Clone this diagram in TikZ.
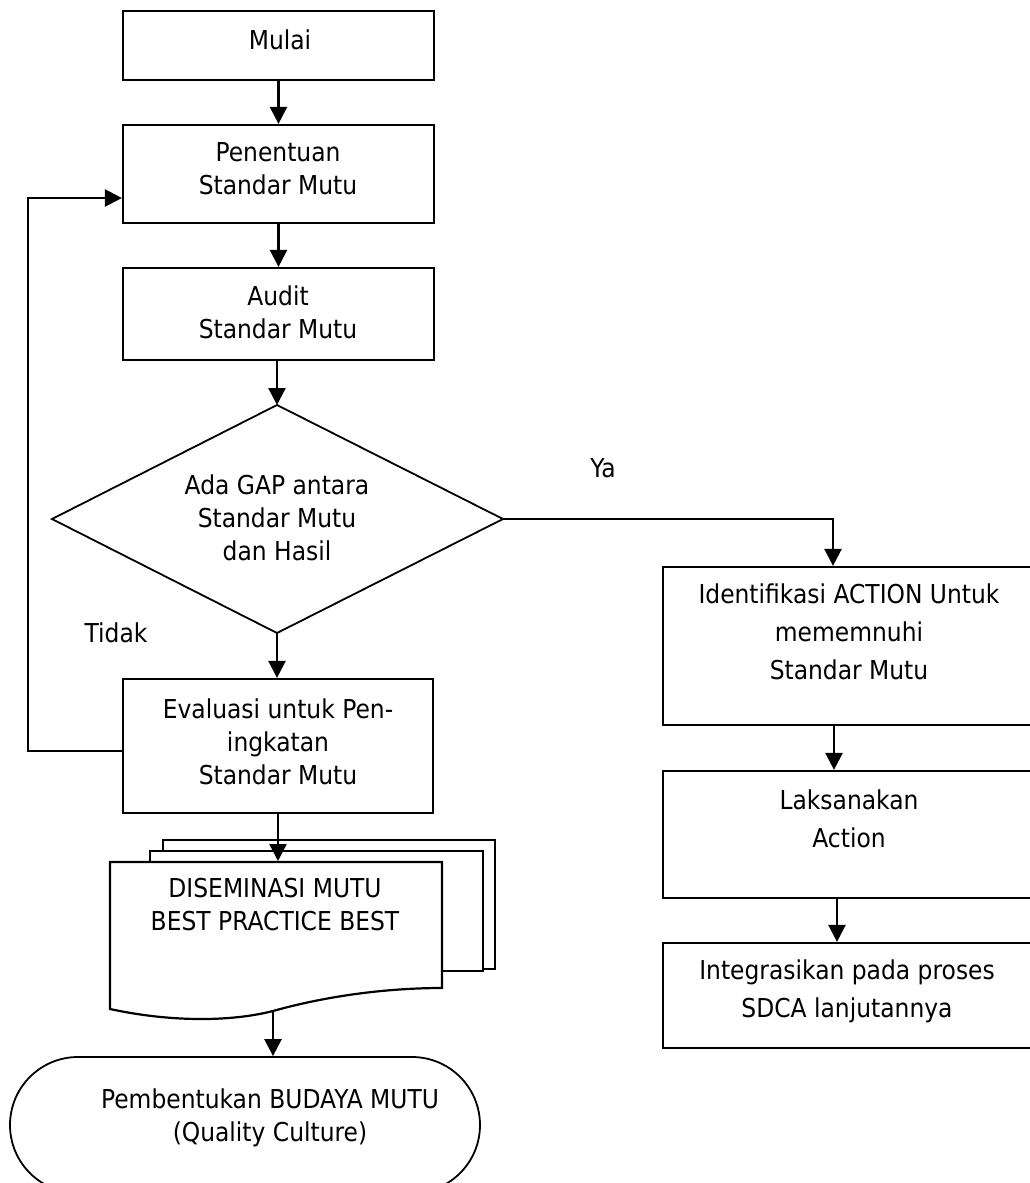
\documentclass[tikz,border=0pt]{standalone}
\usepackage{fontspec}
\setmainfont{DejaVu Sans}[FakeStretch=0.9]
\usetikzlibrary{arrows.meta}

\begin{document}
\begin{tikzpicture}[x=1pt, y=-1pt,
    box/.style={draw, line width=2.2pt, fill=white, inner sep=0pt},
    txt/.style={align=center, inner sep=0pt, font=\fontsize{26}{33}\selectfont},
    txtr/.style={align=center, inner sep=0pt, font=\fontsize{26}{38}\selectfont},
    arr/.style={line width=2.4pt, -{Triangle[length=17pt, width=17pt]}},
    flow/.style={line width=1.8pt}]
  \useasboundingbox (0,0) rectangle (1030,1183);
  \clip (0,0) rectangle (1030,1183);

  % kolom kiri
  \node[box, minimum width=311, minimum height=69] (start) at (278.5,45.5) {};
  \node[txt] (start-txt) at (280,40) {Mulai};
  \node[box, minimum width=311, minimum height=98] (penentuan) at (278.5,174) {};
  \node[txt] (penentuan-txt) at (278,169) {Penentuan\\Standar Mutu};
  \node[box, minimum width=311, minimum height=92] (audit) at (278.5,314) {};
  \node[txt] (audit-txt) at (278,312.5) {Audit\\Standar Mutu};

  \coordinate (gap-n) at (277,405);
  \coordinate (gap-e) at (503,519);
  \coordinate (gap-s) at (277,633);
  \coordinate (gap-w) at (52,519);
  \draw[flow, fill=white] (gap-n) -- (gap-e) -- (gap-s) -- (gap-w) -- cycle;
  \node[txt] (gap) at (277,518) {Ada GAP antara\\Standar Mutu\\dan Hasil};

  \node[box, minimum width=310, minimum height=134] (evaluasi) at (278,746) {};
  \node[txt] (evaluasi-txt) at (278,741.5) {Evaluasi untuk Pen-\\ingkatan\\Standar Mutu};

  \draw[box] (163,840) rectangle (495,969);
  \draw[box] (150,851) rectangle (483,971);
  \draw[box] (110,862) -- (442,862) -- (442,988)
    .. controls (390,988) and (330,995) .. (273,1011)
    .. controls (230,1022) and (170,1022) .. (110,1009) -- cycle;
  \coordinate (diseminasi-n) at (278,861);
  \coordinate (diseminasi-s) at (273,1011);
  \node[txt] (diseminasi) at (275,905) {DISEMINASI MUTU\\BEST PRACTICE BEST};

  \node[draw, flow, rounded corners=68pt, minimum width=470, minimum height=136] (budaya) at (245,1125) {};
  \node[txt] (budaya-txt) at (270,1118) {Pembentukan BUDAYA MUTU\\(Quality Culture)};

  % kolom kanan
  \node[box, minimum width=372, minimum height=158] (identifikasi) at (849,646) {};
  \node[txtr] (identifikasi-txt) at (849,631.5) {Identifikasi ACTION Untuk\\mememnuhi\\Standar Mutu};
  \node[box, minimum width=372, minimum height=127] (laksanakan) at (849,834.5) {};
  \node[txtr] (laksanakan-txt) at (849,818.5) {Laksanakan\\Action};
  \node[box, minimum width=372, minimum height=105] (integrasi) at (849,995.5) {};
  \node[txtr] (integrasi-txt) at (847,991) {Integrasikan pada proses\\SDCA lanjutannya};

  \node[txt] (ya) at (603,468) {Ya};
  \node[txt] (tidak) at (116,633) {Tidak};

  \draw[arr] (start.south) -- (penentuan.north);
  \draw[arr] (penentuan.south) -- (audit.north);
  \draw[arr] (audit.south -| gap-n) -- (gap-n);
  \draw[arr] (gap-s) -- (gap-s |- evaluasi.north);
  \draw[arr] (evaluasi.south) -- (diseminasi-n);
  \draw[arr] (diseminasi-s) -- (diseminasi-s |- budaya.north);
  \draw[arr] ([yshift=-5pt]evaluasi.west) -- ++(-94,0) |- ([yshift=-24pt]penentuan.west);
  \draw[arr] (gap-e) -| ([xshift=-16pt]identifikasi.north);
  \draw[arr] ([xshift=-15pt]identifikasi.south) -- ([xshift=-15pt]laksanakan.north);
  \draw[arr] ([xshift=-12pt]laksanakan.south) -- ([xshift=-12pt]integrasi.north);
\end{tikzpicture}
\end{document}
